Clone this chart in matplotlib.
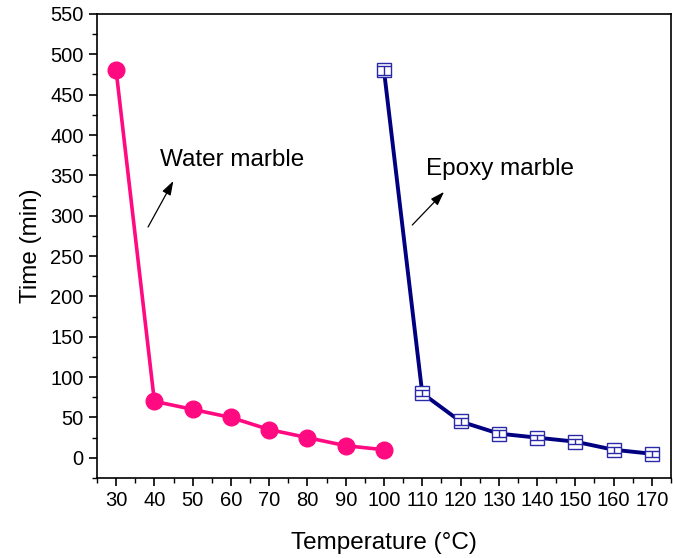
import matplotlib
matplotlib.use('Agg')
import matplotlib.pyplot as plt
from matplotlib.ticker import MultipleLocator

plt.rcParams['font.family'] = ['Liberation Sans', 'DejaVu Sans']

# data
water_temp = [30, 40, 50, 60, 70, 80, 90, 100]
water_time = [480, 70, 60, 50, 35, 25, 15, 10]
epoxy_temp = [100, 110, 120, 130, 140, 150, 160, 170]
epoxy_time = [480, 80, 45, 30, 25, 20, 10, 5]
epoxy_err = [6, 4, 4, 4, 3, 3, 4, 4]

fig = plt.figure(figsize=(6.73, 5.58), dpi=100)
ax = fig.add_axes([0.1441, 0.1434, 0.8529, 0.8316])

ax.plot(water_temp, water_time, '-o', color='#ff0a80', lw=2.6,
        markersize=12, zorder=3)
ax.plot(epoxy_temp, epoxy_time, '-', color='#000080', lw=2.8, zorder=3)
ax.plot(epoxy_temp, epoxy_time, 's', markersize=10, mfc='white',
        mec='#2a2aa8', mew=1.0, zorder=4)
# little error bars drawn inside the boxes
ax.errorbar(epoxy_temp, epoxy_time, yerr=epoxy_err, fmt='none',
            ecolor='#2a2aa8', elinewidth=1.0, capsize=5, capthick=1.0,
            zorder=5)

ax.set_xlim(25, 175)
ax.set_ylim(-25, 550)
ax.xaxis.set_major_locator(MultipleLocator(10))
ax.xaxis.set_minor_locator(MultipleLocator(5))
ax.yaxis.set_major_locator(MultipleLocator(50))
ax.yaxis.set_minor_locator(MultipleLocator(25))
ax.tick_params(which='major', direction='out', length=6, width=1.2,
               labelsize=14.5, top=False, right=False)
ax.tick_params(which='minor', direction='out', length=3.5, width=1.0,
               top=False, right=False)
for s in ax.spines.values():
    s.set_linewidth(1.2)

ax.set_xlabel('Temperature (\u00b0C)', fontsize=17.5, labelpad=16)
ax.set_ylabel('Time (min)', fontsize=17.5, labelpad=6)

ax.annotate('', xy=(45.3, 346), xytext=(38.0, 283),
            arrowprops=dict(arrowstyle='-|>,head_length=0.6,head_width=0.2',
                            color='black', lw=0.9, mutation_scale=14))
ax.text(41.4, 369, 'Water marble', fontsize=17.5, va='center', ha='left')

ax.annotate('', xy=(116.2, 332), xytext=(106.9, 286),
            arrowprops=dict(arrowstyle='-|>,head_length=0.6,head_width=0.2',
                            color='black', lw=0.9, mutation_scale=14))
ax.text(111.0, 358, 'Epoxy marble', fontsize=17.5, va='center', ha='left')

fig.savefig('out.png', dpi=100)
